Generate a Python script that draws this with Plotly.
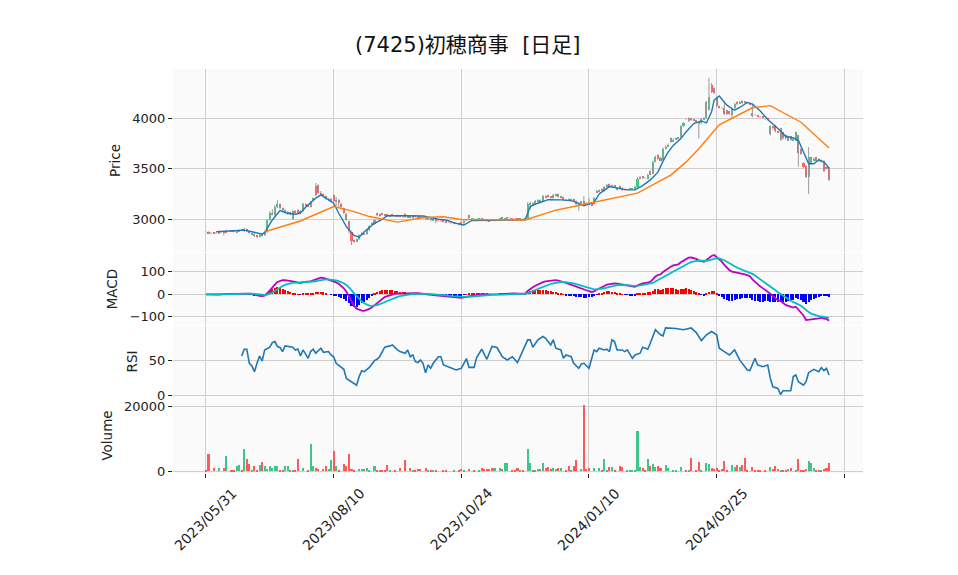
"""(7425)初穂商事 日足チャート: ローソク足 + 移動平均 / MACD / RSI / 出来高"""

import numpy as np
import pandas as pd
import plotly.graph_objects as go
from plotly.subplots import make_subplots

TITLE = "(7425)初穂商事  [日足]"

# x軸は営業日インデックス（0 = 2023/05/31）
tick_days = [0, 50, 100, 150, 200, 250]
tick_dates = ["2023/05/31", "2023/08/10", "2023/10/24", "2024/01/10", "2024/03/25", ""]

opens = [
    2870, 2875, 2865, 2870, 2860, 2860, 2875, 2880, 2865, 2885,
    2885, 2880, 2870, 2880, 2895, 2880, 2900, 2880, 2850, 2858,
    2835, 2825, 2850, 2840, 2870, 2990, 3050, 3040, 3125, 3150,
    3110, 3060, 3050, 3070, 3000, 3085, 3090, 3060, 3080, 3150,
    3140, 3120, 3200, 3330, 3340, 3260, 3250, 3230, 3190, 3180,
    3240, 3180, 3190, 3150, 3110, 3050, 2980, 2870, 2790, 2780,
    2800, 2840, 2860, 2850, 2890, 2960, 2950, 3060, 3050, 3060,
    3045, 3050, 3030, 3040, 3035, 3040, 3035, 3025, 3050, 3020,
    3030, 3015, 3030, 3025, 3020, 3015, 3030, 3000, 3010, 2990,
    3000, 2985, 2985, 2990, 2975, 2970, 2965, 2955, 2960, 2960,
    2975, 2960, 2990, 3040, 3000, 3005, 3000, 2995, 3005, 3000,
    2995, 2990, 2990, 2985, 2990, 2990, 3010, 2995, 3005, 3010,
    3005, 3000, 3005, 2995, 3000, 2995, 3000, 3150, 3160, 3150,
    3180, 3190, 3180, 3230, 3240, 3220, 3210, 3230, 3250, 3220,
    3220, 3195, 3200, 3185, 3200, 3180, 3140, 3165, 3180, 3160,
    3160, 3150, 3150, 3280, 3270, 3300, 3280, 3320, 3350, 3320,
    3330, 3290, 3330, 3310, 3290, 3290, 3295, 3300, 3300, 3320,
    3400, 3420, 3410, 3400, 3480, 3450, 3570, 3640, 3610, 3590,
    3700, 3720, 3800, 3770, 3790, 3810, 3810, 3920, 3990, 3970,
    4000, 3985, 3980, 3960, 3950, 3990, 4000, 4080, 4330, 4300,
    4210, 4120, 4100, 4100, 4080, 4070, 4030, 4100, 4165, 4150,
    4170, 4160, 4155, 4150, 4050, 4030, 4030, 4010, 4015, 3995,
    4000, 3840, 3920, 3930, 3870, 3790, 3860, 3830, 3780, 3820,
    3780, 3780, 3830, 3700, 3560, 3530, 3420, 3560, 3580, 3615,
    3600, 3570, 3580, 3505, 3510,
]
closes = [
    2870, 2860, 2865, 2860, 2860, 2875, 2875, 2865, 2885, 2885,
    2880, 2878, 2885, 2895, 2892, 2900, 2880, 2860, 2858, 2835,
    2825, 2845, 2840, 2870, 2990, 3060, 3065, 3125, 3150, 3110,
    3090, 3090, 3075, 3050, 3085, 3070, 3060, 3080, 3150, 3140,
    3130, 3170, 3210, 3240, 3260, 3250, 3230, 3200, 3205, 3200,
    3180, 3190, 3160, 3120, 3060, 2990, 2880, 2790, 2780, 2800,
    2840, 2860, 2850, 2890, 2930, 2950, 2990, 3040, 3030, 3045,
    3040, 3030, 3040, 3035, 3035, 3030, 3025, 3025, 3020, 3025,
    3020, 3030, 3025, 3020, 3015, 3015, 3000, 3010, 2990, 3000,
    2985, 2985, 2985, 2975, 2970, 2970, 2965, 2962, 2960, 2945,
    2945, 2985, 2990, 3010, 3005, 3005, 3000, 3000, 2995, 2990,
    2985, 2980, 2985, 2990, 2990, 3010, 3005, 3005, 3010, 3010,
    3000, 3000, 2995, 3000, 3000, 3005, 3150, 3160, 3150, 3180,
    3190, 3180, 3230, 3220, 3220, 3215, 3240, 3250, 3220, 3230,
    3195, 3195, 3190, 3200, 3180, 3150, 3160, 3170, 3150, 3150,
    3150, 3140, 3210, 3270, 3290, 3280, 3320, 3340, 3320, 3330,
    3320, 3310, 3300, 3290, 3290, 3295, 3300, 3305, 3320, 3400,
    3420, 3410, 3410, 3440, 3440, 3570, 3620, 3600, 3580, 3700,
    3720, 3740, 3770, 3790, 3800, 3800, 3920, 3950, 3990, 4000,
    3980, 3975, 3960, 3950, 3990, 4000, 4160, 4210, 4260, 4250,
    4120, 4100, 4100, 4040, 4040, 4040, 4090, 4140, 4140, 4160,
    4150, 4155, 4155, 4140, 4020, 4030, 4020, 4010, 4005, 3995,
    3985, 3920, 3900, 3870, 3860, 3900, 3800, 3800, 3810, 3790,
    3790, 3860, 3660, 3650, 3520, 3420, 3615, 3615, 3600, 3580,
    3580, 3585, 3480, 3500, 3390,
]
highs = [
    2870, 2880, 2865, 2870, 2860, 2880, 2875, 2885, 2895, 2885,
    2890, 2885, 2890, 2900, 2900, 2915, 2905, 2885, 2862, 2860,
    2840, 2850, 2855, 2880, 3000, 3080, 3100, 3140, 3190, 3155,
    3115, 3100, 3080, 3075, 3090, 3090, 3100, 3090, 3165, 3155,
    3145, 3180, 3215, 3360, 3345, 3280, 3255, 3235, 3210, 3210,
    3245, 3220, 3200, 3160, 3115, 3060, 2985, 2875, 2800, 2810,
    2850, 2870, 2865, 2900, 2940, 2975, 3000, 3065, 3055, 3065,
    3050, 3055, 3045, 3045, 3035, 3045, 3040, 3025, 3060, 3030,
    3035, 3035, 3030, 3030, 3025, 3015, 3035, 3015, 3015, 3005,
    3010, 2985, 2985, 2995, 2980, 2970, 2965, 2965, 2960, 2965,
    2985, 2990, 2990, 3045, 3010, 3005, 3000, 3005, 3010, 3005,
    3000, 2995, 2995, 2995, 2990, 3015, 3015, 3010, 3015, 3010,
    3010, 3000, 3010, 3005, 3000, 3010, 3170, 3175, 3165, 3190,
    3200, 3195, 3240, 3235, 3245, 3225, 3250, 3255, 3255, 3235,
    3225, 3195, 3205, 3205, 3205, 3185, 3165, 3180, 3230, 3170,
    3210, 3155, 3220, 3290, 3295, 3305, 3330, 3350, 3355, 3335,
    3335, 3315, 3335, 3315, 3290, 3300, 3305, 3310, 3330, 3420,
    3430, 3425, 3410, 3450, 3485, 3580, 3630, 3645, 3620, 3710,
    3730, 3750, 3810, 3800, 3810, 3815, 3930, 3960, 3990, 4010,
    4005, 3990, 3985, 3965, 4000, 4010, 4170, 4400, 4350, 4305,
    4215, 4125, 4100, 4160, 4085, 4075, 4100, 4150, 4170, 4170,
    4180, 4165, 4155, 4155, 4150, 4030, 4035, 4010, 4020, 3995,
    4005, 3930, 3925, 3935, 3875, 3905, 3865, 3840, 3820, 3825,
    3800, 3870, 3835, 3705, 3565, 3535, 3715, 3620, 3610, 3620,
    3605, 3590, 3585, 3510, 3515,
]
lows = [
    2870, 2855, 2865, 2855, 2860, 2855, 2875, 2840, 2860, 2885,
    2875, 2870, 2865, 2875, 2885, 2875, 2875, 2855, 2845, 2825,
    2815, 2820, 2830, 2835, 2865, 2985, 3040, 3035, 3110, 3100,
    3080, 3055, 3045, 3040, 2995, 3060, 3050, 3055, 3075, 3130,
    3125, 3115, 3195, 3230, 3250, 3240, 3220, 3195, 3185, 3175,
    3170, 3130, 3120, 3110, 3050, 2985, 2860, 2745, 2770, 2775,
    2795, 2835, 2845, 2845, 2885, 2945, 2945, 3030, 3025, 3040,
    3035, 3025, 3025, 3030, 3035, 3020, 3020, 3025, 3015, 3015,
    3010, 3010, 3020, 3010, 3005, 3015, 2995, 2995, 2980, 2985,
    2960, 2985, 2985, 2970, 2965, 2970, 2965, 2950, 2960, 2940,
    2935, 2955, 2990, 3000, 2995, 3005, 3000, 2990, 2990, 2985,
    2975, 2975, 2980, 2980, 2990, 2985, 3000, 2990, 3000, 3010,
    2995, 3000, 2990, 2990, 3000, 2990, 2995, 3100, 3140, 3145,
    3175, 3170, 3175, 3210, 3215, 3205, 3205, 3225, 3215, 3215,
    3185, 3195, 3180, 3180, 3175, 3130, 3085, 3150, 3140, 3140,
    3145, 3130, 3145, 3260, 3265, 3275, 3275, 3315, 3315, 3315,
    3310, 3285, 3295, 3280, 3290, 3285, 3290, 3295, 3295, 3310,
    3395, 3400, 3410, 3395, 3435, 3445, 3565, 3590, 3575, 3585,
    3695, 3715, 3760, 3765, 3785, 3790, 3805, 3915, 3990, 3965,
    3975, 3970, 3955, 3800, 3945, 3985, 3995, 4075, 4250, 4240,
    4110, 4095, 4100, 4030, 4030, 4035, 4000, 4095, 4130, 4145,
    4145, 4150, 4155, 4135, 4010, 4030, 4015, 4010, 4000, 3995,
    3980, 3830, 3890, 3860, 3855, 3780, 3790, 3790, 3775, 3780,
    3775, 3775, 3520, 3640, 3510, 3410, 3250, 3555, 3575, 3575,
    3570, 3565, 3470, 3495, 3380,
]
volumes = [
    600, 5400, 0, 1100, 0, 1100, 0, 1100, 4850, 0,
    300, 300, 1800, 2100, 300, 7000, 3900, 2400, 600, 1800,
    500, 2100, 3000, 1600, 900, 1800, 1100, 1600, 1600, 600,
    300, 1800, 1800, 300, 300, 600, 3800, 0, 1200, 0,
    600, 8400, 1700, 1100, 900, 0, 900, 1800, 900, 3600,
    6400, 1600, 300, 0, 2400, 1600, 5200, 900, 600, 0,
    900, 700, 700, 1200, 600, 0, 1800, 600, 600, 600,
    400, 2100, 300, 0, 300, 0, 1200, 0, 3600, 0,
    1200, 600, 600, 900, 900, 0, 1200, 600, 600, 600,
    600, 0, 0, 600, 600, 0, 0, 300, 0, 300,
    900, 300, 0, 900, 0, 300, 0, 300, 1200, 900,
    900, 900, 1200, 1200, 0, 1200, 900, 2700, 2700, 0,
    300, 600, 1200, 300, 300, 0, 7000, 2700, 300, 600,
    900, 900, 2700, 1200, 1500, 900, 1200, 900, 1200, 1200,
    0, 300, 1800, 600, 1800, 3600, 0, 900, 20300, 900,
    1200, 0, 1200, 0, 1200, 300, 3900, 300, 1500, 1500,
    600, 0, 1800, 1500, 0, 300, 300, 600, 600, 12400,
    1500, 1200, 300, 3900, 1800, 2400, 1500, 1800, 1200, 0,
    2100, 1200, 0, 300, 300, 0, 1500, 0, 300, 300,
    4200, 0, 300, 3000, 600, 0, 2700, 2400, 1200, 900,
    1200, 300, 900, 3300, 300, 0, 2100, 1500, 2100, 1500,
    2100, 4200, 300, 0, 1500, 600, 600, 600, 0, 600,
    0, 1500, 900, 1800, 900, 600, 600, 600, 900, 1200,
    0, 600, 3900, 600, 300, 900, 3300, 2700, 1200, 300,
    300, 600, 900, 1200, 2700,
]

# 短期移動平均（青）
ma_short_day = [4, 9, 15, 18, 22, 23, 26, 29, 32, 35,
                37, 39, 43, 45, 47, 50, 52, 55, 58, 60,
                62, 66, 69, 71, 78, 85, 91, 94, 98, 101,
                104, 110, 117, 125, 127, 130, 134, 139, 143, 145,
                148, 152, 154, 158, 161, 165, 168, 171, 174, 177,
                179, 181, 183, 186, 188, 191, 194, 196, 198, 199,
                201, 204, 207, 209, 212, 214, 217, 220, 224, 227,
                230, 232, 234, 236, 238, 240, 242, 244]
ma_short_val = [2877, 2883, 2893, 2877, 2852, 2870, 2993, 3086, 3060, 3050,
                3060, 3119, 3209, 3242, 3209, 3159, 3060, 2927, 2840, 2822,
                2877, 2960, 3000, 3036, 3035, 3033, 3000, 2993, 2960, 2943,
                2987, 2993, 2993, 2995, 3126, 3159, 3195, 3192, 3185, 3168,
                3135, 3168, 3251, 3324, 3311, 3291, 3291, 3334, 3390, 3467,
                3576, 3666, 3732, 3799, 3865, 3948, 3974, 3954, 4064, 4180,
                4220, 4130, 4080, 4107, 4157, 4140, 4074, 3988, 3898, 3822,
                3805, 3782, 3666, 3550, 3550, 3590, 3566, 3507]

# 長期移動平均（橙）
ma_long_day = [23, 37, 50, 58, 64, 75, 85, 93, 100, 111, 125,
               137, 152, 169, 182, 188, 193, 201, 214, 221, 233, 244]
ma_long_val = [2877, 2983, 3126, 3076, 3027, 2972, 3018, 3025, 2998, 2993, 2993,
               3090, 3168, 3259, 3438, 3566, 3699, 3935, 4104, 4125, 3961, 3706]

# RSI(14)
rsi_day = [14, 15, 16, 17, 18, 19, 20, 21, 22, 23,
           25, 26, 27, 28, 29, 30, 31, 33, 34, 35,
           36, 37, 38, 39, 40, 41, 42, 43, 45, 46,
           48, 49, 50, 51, 53, 54, 55, 57, 58, 59,
           60, 61, 62, 64, 66, 67, 68, 70, 72, 73,
           75, 76, 78, 79, 80, 81, 82, 83, 84, 85,
           86, 87, 88, 89, 91, 92, 93, 94, 96, 98,
           100, 102, 103, 105, 106, 108, 110, 112, 114, 116,
           118, 120, 122, 124, 126, 127, 128, 130, 132, 133,
           135, 136, 137, 139, 140, 141, 143, 144, 146, 147,
           148, 150, 151, 152, 153, 154, 156, 157, 158, 159,
           160, 161, 163, 164, 165, 167, 168, 170, 171, 173,
           174, 176, 178, 179, 180, 182, 184, 187, 190, 192,
           194, 196, 198, 200, 201, 203, 205, 207, 209, 212,
           213, 215, 216, 218, 220, 221, 222, 224, 225, 226,
           229, 230, 231, 232, 233, 234, 235, 236, 238, 240,
           241, 242, 243, 244]
rsi_val = [56, 65.6, 65.6, 45.8, 42, 34, 45.8, 56, 49, 64.6,
           68.4, 75, 76.4, 69.4, 68, 62.3, 70.3, 68.4, 68.4, 64.6,
           66, 56, 64.6, 59, 52.8, 62.3, 65.6, 60, 67, 61.3,
           62.3, 57.5, 55, 45.8, 40, 37.3, 24.5, 20, 18.4, 15,
           27, 35.4, 34, 40, 49.5, 51.4, 55, 68.4, 70.3, 71.7,
           64.6, 62.3, 60, 64.6, 55, 57.5, 48, 46.7, 50.5, 45.8,
           32.5, 43.4, 38.7, 45.8, 55, 55, 43.4, 42, 40, 36.3,
           38.7, 52.4, 40, 40, 53.8, 65.6, 51.4, 69.4, 68, 55,
           50.5, 55, 46.7, 62.3, 78.8, 78.8, 68.4, 78.8, 83.5, 81,
           71.7, 78.8, 67, 64.6, 52.8, 57.5, 55, 45.8, 38.7, 44.8,
           45.8, 38.7, 50.5, 64.6, 62.3, 67, 64.6, 65.6, 62.3, 78.8,
           76.4, 64.6, 64.6, 62.3, 64.6, 52.8, 57.5, 60, 68.4, 65.6,
           74, 93, 86, 84.5, 95.7, 95.7, 94.7, 93, 95.7, 89,
           77.8, 86, 90.6, 86, 67, 62.3, 57.5, 64.6, 50.5, 36.3,
           35.4, 52.8, 43.4, 41, 43.4, 24.5, 12.7, 10.4, 1.9, 7,
           7, 27, 29.2, 19.8, 17.4, 15, 19.8, 32.5, 37.3, 34,
           39.6, 35.4, 38.7, 29.2]

FONT = "DejaVu Sans, Noto Sans CJK JP"
UP = "#3fc48b"
DOWN = "#ff5a5a"
FLAT = "#ffbcbc"
WICK = "#9a9a9a"
GRID = "#cfcfcf"

df = pd.DataFrame({"open": opens, "high": highs, "low": lows,
                   "close": closes, "volume": volumes})
days = np.arange(len(df))

# MACD(12, 26, 9)
ema_fast = df["close"].ewm(span=12, adjust=False).mean()
ema_slow = df["close"].ewm(span=26, adjust=False).mean()
macd = ema_fast - ema_slow
signal = macd.ewm(span=9, adjust=False).mean()
hist = macd - signal

# ローソク足の実体とヒゲ
up = df["close"] > df["open"]
down = df["close"] < df["open"]
body_color = np.where(up, UP, np.where(down, DOWN, FLAT))
body_h = np.maximum((df["close"] - df["open"]).abs(), 9)
body_base = np.where(up | down, np.minimum(df["open"], df["close"]), df["close"] - 4.5)

wick_x, wick_y = [], []
for i, (h, l) in enumerate(zip(df["high"], df["low"])):
    wick_x += [i, i, None]
    wick_y += [l, h, None]

vol_color = np.where(up, UP, DOWN)

fig = make_subplots(rows=4, cols=1, shared_xaxes=True)

fig.add_trace(go.Scatter(x=wick_x, y=wick_y, mode="lines",
                         line=dict(color=WICK, width=1)), row=1, col=1)
fig.add_trace(go.Bar(x=days, y=body_h, base=body_base, width=0.8,
                     marker=dict(color=body_color, line_width=0)), row=1, col=1)
fig.add_trace(go.Scatter(x=ma_short_day, y=ma_short_val, mode="lines",
                         line=dict(color="#1f77b4", width=1.4)), row=1, col=1)
fig.add_trace(go.Scatter(x=ma_long_day, y=ma_long_val, mode="lines",
                         line=dict(color="#ff7f0e", width=1.4)), row=1, col=1)

fig.add_trace(go.Bar(x=days, y=hist, width=0.8,
                     marker=dict(color=np.where(hist >= 0, "#ff0000", "#0000ff"),
                                 line_width=0)), row=2, col=1)
fig.add_trace(go.Scatter(x=days, y=macd, mode="lines",
                         line=dict(color="#bf00bf", width=1.8)), row=2, col=1)
fig.add_trace(go.Scatter(x=days, y=signal, mode="lines",
                         line=dict(color="#00bfbf", width=1.8)), row=2, col=1)

fig.add_trace(go.Scatter(x=rsi_day, y=rsi_val, mode="lines",
                         line=dict(color="#1f77b4", width=1.6)), row=3, col=1)

fig.add_trace(go.Bar(x=days, y=df["volume"], width=0.8,
                     marker=dict(color=vol_color, line_width=0)), row=4, col=1)

tick_font = dict(family=FONT, size=13, color="#222")
title_font = dict(family=FONT, size=13.5, color="#222")

# ページ本体の余白(8px)を差し引いた大きさ
fig.update_layout(
    template="none",
    width=950, height=567,
    margin=dict(l=165, r=95, t=61, b=102),
    paper_bgcolor="white",
    plot_bgcolor="#fafafa",
    showlegend=False,
    bargap=0,
    font=dict(family=FONT, color="#222"),
    title=dict(text=TITLE, x=0.484, xanchor="center", y=0.935, yanchor="middle",
               font=dict(family=FONT, size=21, color="#111")),
)

domains = [[0.547, 1.0], [0.366, 0.5445], [0.188, 0.364], [0.0, 0.1856]]
y_ranges = [[2676, 4488], [-137, 183.6], [-1.8, 98.4], [-460, 22440]]
y_ticks = [[3000, 3500, 4000], [-100, 0, 100], [0, 50], [0, 20000]]
y_text = [["3000", "3500", "4000"], ["\u2212100", "0", "100"], ["0", "50"], ["0", "20000"]]
y_titles = ["Price", "MACD", "RSI", "Volume"]

for r in range(4):
    fig.update_yaxes(
        row=r + 1, col=1, domain=domains[r], range=y_ranges[r],
        tickvals=y_ticks[r], ticktext=y_text[r], tickfont=tick_font,
        ticks="outside", ticklen=4, tickcolor="#222",
        showgrid=True, gridcolor=GRID, gridwidth=1, zeroline=False,
        showline=False, automargin=False,
        title=dict(text=y_titles[r], font=title_font, standoff=8),
    )
    fig.update_xaxes(
        row=r + 1, col=1, range=[-12.9, 257.3],
        tickvals=tick_days,
        showgrid=True, gridcolor=GRID, gridwidth=1, zeroline=False,
        showline=False, automargin=False, showticklabels=False,
        ticks="outside" if r == 3 else "", ticklen=4, tickcolor="#222",
    )

# 日付ラベルは目盛りを中心に45度回転
for d, label in zip(tick_days, tick_dates):
    if label:
        fig.add_annotation(x=d, xref="x4", y=-0.022, yref="paper", text=label,
                           textangle=-45, xanchor="center", yanchor="top",
                           showarrow=False,
                           font=dict(family=FONT, size=14, color="#222"))

fig.write_html("out.html")
